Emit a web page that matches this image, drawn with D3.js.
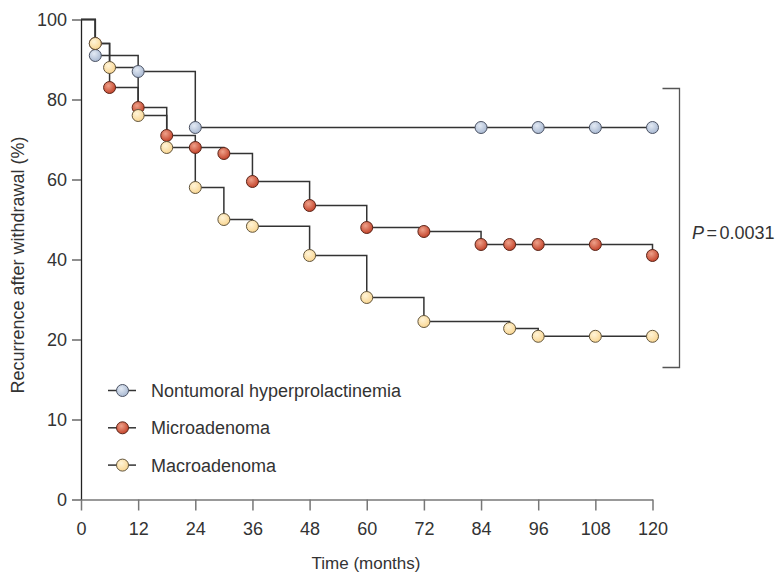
<!DOCTYPE html>
<html>
<head>
<meta charset="utf-8">
<script src="https://cdn.jsdelivr.net/npm/d3@7"></script>
<style>
  html, body { margin: 0; padding: 0; background: #fff; }
  svg { display: block; font-family: "Liberation Sans", Arial, sans-serif; }
  .axis text { font-size: 18px; fill: #333; }
</style>
</head>
<body>
<div id="chart"></div>
<script>
// --- DATOS ---
const seriesNames = ["Nontumoral hyperprolactinemia", "Microadenoma", "Macroadenoma"];

const nontumoralMonths = [0, 3, 12, 24, 84, 96, 108, 120];
const nontumoralValues = [100, 91, 87, 73, 73, 73, 73, 73];

const microMonths = [0, 3, 6, 12, 18, 24, 30, 36, 48, 60, 72, 84, 90, 96, 108, 120];
const microValues = [100, 94, 83, 78, 71, 68, 66.5, 59.5, 53.5, 48, 47, 43.75, 43.75, 43.75, 43.75, 41];

const macroMonths = [0, 3, 6, 12, 18, 24, 30, 36, 48, 60, 72, 90, 96, 108, 120];
const macroValues = [100, 94, 88, 76, 68, 58, 50, 48.3, 41, 30.5, 24.5, 22.75, 20.8, 20.8, 20.8];

const xTicks = [0, 12, 24, 36, 48, 60, 72, 84, 96, 108, 120];
const yTicks = [0, 10, 20, 40, 60, 80, 100];
const pLabel = "0.0031";

// --- CONFIGURACIÓN ---
const width = 779, height = 574;
const svg = d3.select("#chart").append("svg")
  .attr("width", width).attr("height", height);

// eje x lineal, eje y partido (0-20 con el doble de escala)
const x = d3.scaleLinear().domain([0, 120]).range([81, 652.5]);
const y = d3.scaleLinear().domain([0, 20, 100]).range([499.5, 339.5, 19.5]);

// Degradados de los círculos
const defs = svg.append("defs");
const palette = [
  { id: "g-blue", hi: "#e3eaf4", lo: "#a9b9d2", stroke: "#4b5263" },
  { id: "g-red", hi: "#eea18a", lo: "#c4442b", stroke: "#5b2418" },
  { id: "g-yellow", hi: "#fff4d8", lo: "#f9d692", stroke: "#62553c" }
];
palette.forEach(p => {
  const g = defs.append("radialGradient").attr("id", p.id)
    .attr("cx", "40%").attr("cy", "35%").attr("r", "65%");
  g.append("stop").attr("offset", "0%").attr("stop-color", p.hi);
  g.append("stop").attr("offset", "100%").attr("stop-color", p.lo);
});

const series = [
  { name: seriesNames[0], pts: nontumoralMonths.map((m, i) => [m, nontumoralValues[i]]), col: palette[0] },
  { name: seriesNames[1], pts: microMonths.map((m, i) => [m, microValues[i]]), col: palette[1] },
  { name: seriesNames[2], pts: macroMonths.map((m, i) => [m, macroValues[i]]), col: palette[2] }
];

// --- EJES ---
const gy = svg.append("g").attr("class", "axis")
  .attr("transform", `translate(${x(0)},0)`)
  .call(d3.axisLeft(y).tickValues(yTicks).tickSize(9).tickSizeOuter(0).tickPadding(5));
gy.select(".domain").attr("stroke", "#222").attr("stroke-width", 1.3);
gy.selectAll(".tick line").attr("stroke", "#444").attr("stroke-width", 1.2);

const gx = svg.append("g").attr("class", "axis")
  .attr("transform", `translate(0,${y(0)})`)
  .call(d3.axisBottom(x).tickValues(xTicks).tickSize(11).tickSizeOuter(0).tickPadding(12));
gx.select(".domain").attr("stroke", "#777").attr("stroke-width", 1.5);
gx.selectAll(".tick line").attr("stroke", "#777").attr("stroke-width", 1.5);

svg.append("text")
  .attr("x", 366).attr("y", 569)
  .attr("text-anchor", "middle")
  .style("font-size", "17px").style("fill", "#333")
  .text("Time (months)");

svg.append("text")
  .attr("transform", "translate(24,265) rotate(-90)")
  .attr("text-anchor", "middle")
  .style("font-size", "18px").style("fill", "#333")
  .text("Recurrence after withdrawal (%)");

// --- CURVAS ---
const line = d3.line().x(d => x(d[0])).y(d => y(d[1])).curve(d3.curveStepAfter);

svg.append("g").selectAll("path").data(series).join("path")
  .attr("d", d => line(d.pts))
  .attr("fill", "none")
  .attr("stroke", "#333")
  .attr("stroke-width", 1.5);

series.forEach(s => {
  svg.append("g").selectAll("circle").data(s.pts.slice(1)).join("circle")
    .attr("cx", d => x(d[0]))
    .attr("cy", d => y(d[1]))
    .attr("r", 6)
    .attr("fill", `url(#${s.col.id})`)
    .attr("stroke", s.col.stroke)
    .attr("stroke-width", 1);
});

// --- CORCHETE Y VALOR P ---
const bx = 679.5, bTop = 88.5, bBot = 367.5;
svg.append("path")
  .attr("d", `M${bx - 17},${bTop}H${bx}V${bBot}H${bx - 17}`)
  .attr("fill", "none").attr("stroke", "#555").attr("stroke-width", 1.3);

const pt = svg.append("text").attr("x", 692).attr("y", 239)
  .style("font-size", "18px").style("fill", "#333");
pt.append("tspan").style("font-style", "italic").text("P");
pt.append("tspan").attr("dx", 2.5).text("=");
pt.append("tspan").attr("dx", 2.5).text(pLabel);

// --- LEYENDA ---
const legend = svg.append("g");
series.forEach((s, i) => {
  const ly = 390.5 + i * 37.3;
  legend.append("line")
    .attr("x1", 108).attr("x2", 136).attr("y1", ly).attr("y2", ly)
    .attr("stroke", "#333").attr("stroke-width", 1.5);
  legend.append("circle")
    .attr("cx", 122.5).attr("cy", ly).attr("r", 6)
    .attr("fill", `url(#${s.col.id})`)
    .attr("stroke", s.col.stroke).attr("stroke-width", 1);
  legend.append("text")
    .attr("x", 151).attr("y", ly + 6.5)
    .style("font-size", "18px").style("fill", "#333")
    .text(s.name);
});
</script>
</body>
</html>
